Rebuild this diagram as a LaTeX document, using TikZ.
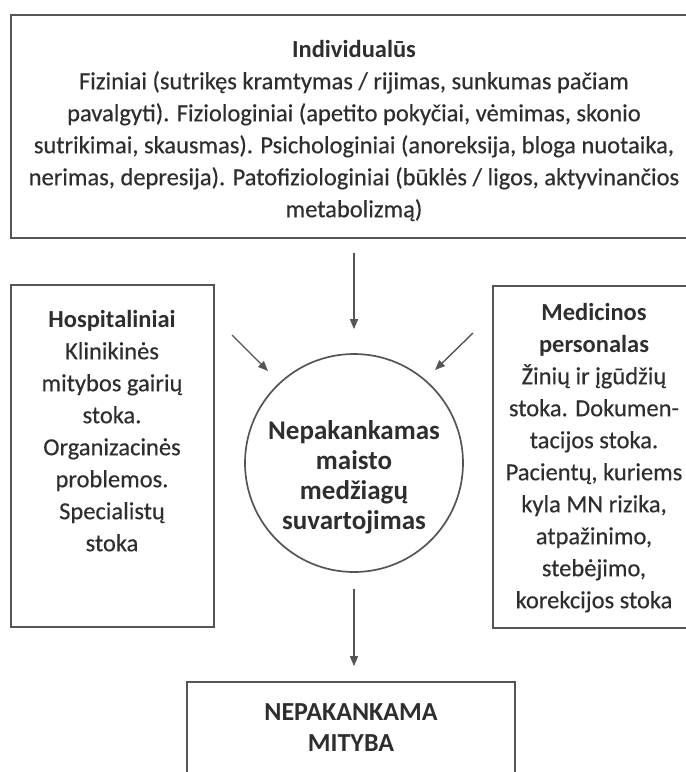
\documentclass[tikz,border=0pt]{standalone}
\usepackage{fontspec}
\setmainfont{Carlito}[UprightFeatures={FakeBold=0.4}]
\usetikzlibrary{arrows.meta}
\definecolor{txt}{HTML}{2E2E2E}
\definecolor{ln}{HTML}{555555}
\begin{document}
\begin{tikzpicture}[x=1pt,y=-1pt,
  box/.style={draw=ln, line width=1.7pt, inner sep=0pt, fill=none},
  ta/.style={font=\fontsize{24.5}{32}\selectfont, text=txt, align=center, inner sep=0pt, anchor=north},
  tc/.style={font=\fontsize{27}{30}\selectfont\bfseries, text=txt, align=center, inner sep=0pt, anchor=north},
  tb/.style={font=\fontsize{26}{31}\selectfont\bfseries, text=txt, align=center, inner sep=0pt, anchor=north},
  arr/.style={draw=ln, line width=1.4pt, -{Triangle[length=10pt,width=8pt]}}]
\useasboundingbox (0,0) rectangle (686,772);
\clip (0,0) rectangle (686,772);
% boxes
\node[box, minimum width=689pt, minimum height=223pt] (topbox) at (355.5,126.5) {};
\node[box, minimum width=203pt, minimum height=342pt] (leftbox) at (112.5,456) {};
\node[box, minimum width=207pt, minimum height=342pt] (rightbox) at (596.5,457) {};
\node[box, minimum width=328pt, minimum height=140pt] (botbox) at (351,752) {};
\node[box, circle, minimum size=218pt] (circ) at (354,463) {};
% texts
\node[ta] (toptext) at (354,34.6) {\rule[-9.6pt]{0pt}{32pt}\textbf{Individualūs}\\
Fiziniai (sutrikęs kramtymas / rijimas, sunkumas pačiam\\
pavalgyti). Fiziologiniai (apetito pokyčiai, vėmimas, skonio\\
sutrikimai, skausmas). Psichologiniai (anoreksija, bloga nuotaika,\\
nerimas, depresija). Patofiziologiniai (būklės / ligos, aktyvinančios\\
metabolizmą)};
\node[ta] (lefttext) at (112,304.6) {\rule[-9.6pt]{0pt}{32pt}\textbf{Hospitaliniai}\\
Klinikinės\\ mitybos gairių\\ stoka.\\ Organizacinės\\ problemos.\\ Specialistų\\ stoka};
\node[ta] (righttext) at (594,297.6) {\rule[-9.6pt]{0pt}{32pt}\textbf{Medicinos}\\ \textbf{personalas}\\
Žinių ir įgūdžių\\ stoka. Dokumen-\\ tacijos stoka.\\ Pacientų, kuriems\\ kyla MN rizika,\\ atpažinimo,\\ stebėjimo,\\ korekcijos stoka};
\node[tc] (circtext) at (354,418) {\rule[-9pt]{0pt}{30pt}Nepakankamas\\ maisto\\ medžiagų\\ suvartojimas};
\node[tb] (bottext) at (351,698.3) {\rule[-9.3pt]{0pt}{31pt}NEPAKANKAMA\\ MITYBA};
% arrows
\coordinate (l1) at (232,335);
\coordinate (l2) at (268,371);
\coordinate (r1) at (473,333);
\coordinate (r2) at (435,370);
\draw[arr, shorten <=14pt, shorten >=24pt] (topbox.south -| circ.north) -- (circ.north);
\draw[arr] (l1) -- (l2);
\draw[arr] (r1) -- (r2);
\draw[arr, shorten <=16pt, shorten >=15pt] (circ.south) -- (circ.south |- botbox.north);
\end{tikzpicture}
\end{document}
